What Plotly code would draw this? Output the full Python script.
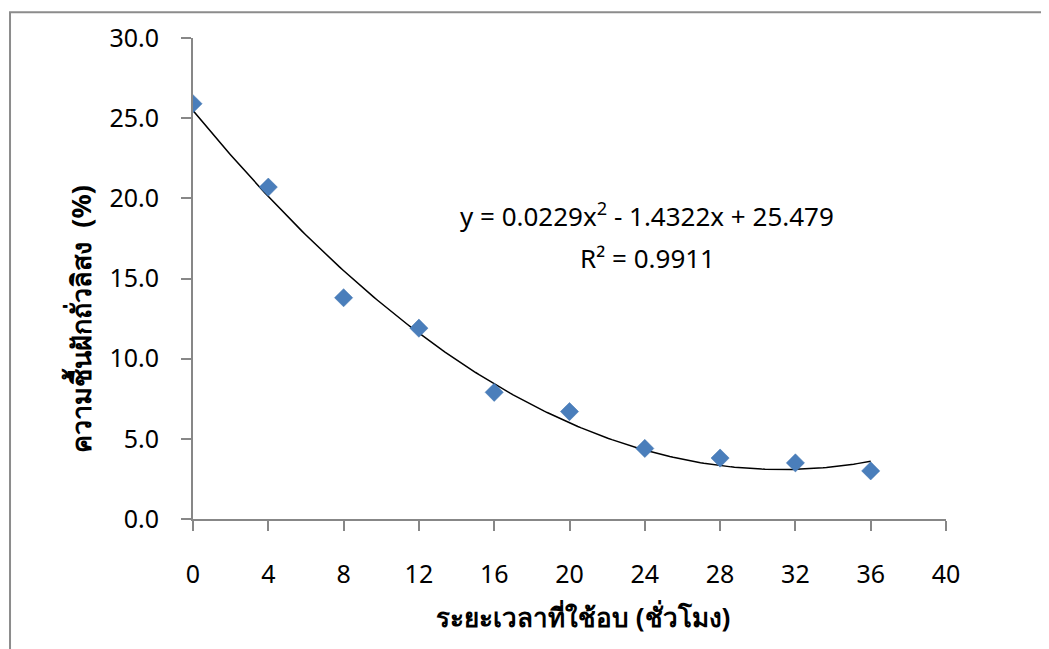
import numpy as np
import plotly.graph_objects as go

# Data
hours = [0, 4, 8, 12, 16, 20, 24, 28, 32, 36]
moisture = [25.9, 20.7, 13.8, 11.9, 7.9, 6.7, 4.4, 3.8, 3.5, 3.0]

# Trendline coefficients shown on chart (a*x^2 + b*x + c)
trend_coef = [0.0229, -1.4322, 25.479]
r_squared = 0.9911

x_ticks = [0, 4, 8, 12, 16, 20, 24, 28, 32, 36, 40]
y_ticks = [0, 5, 10, 15, 20, 25, 30]

x_title = "ระยะเวลาที่ใช้อบ (ชั่วโมง)"
y_title = "ความชื้นฝักถั่วลิสง  (%)"

FONT = "Noto Sans, Tahoma, sans-serif"
AXIS_GRAY = "#878787"

trend_x = np.linspace(min(hours), max(hours), 200)
trend_y = np.polyval(trend_coef, trend_x)

fig = go.Figure()
fig.add_trace(go.Scatter(
    x=trend_x, y=trend_y, mode="lines",
    line=dict(color="black", width=1.5),
    hoverinfo="skip", showlegend=False,
))
fig.add_trace(go.Scatter(
    x=hours, y=moisture, mode="markers",
    marker=dict(symbol="diamond", size=14, color="#4A7EBB",
                line=dict(color="#3F72AF", width=0.5)),
    showlegend=False,
))

eq_text = (f"y = {trend_coef[0]}x<sup>2</sup> - {abs(trend_coef[1])}x + {trend_coef[2]}")
fig.add_annotation(x=0.603, y=0.633, xref="paper", yref="paper",
                   xanchor="center", yanchor="middle",
                   text=eq_text, showarrow=False,
                   font=dict(family=FONT, size=26, color="#000"))
fig.add_annotation(x=0.603, y=0.542, xref="paper", yref="paper",
                   xanchor="center", yanchor="middle",
                   text=f"R² = {r_squared}", showarrow=False,
                   font=dict(family=FONT, size=26, color="#000"))

# Axis titles (placed as in the reference, slightly off-centre)
fig.add_annotation(x=0.518, y=-0.204, xref="paper", yref="paper",
                   xanchor="center", yanchor="middle",
                   text=f"<b>{x_title}</b>", showarrow=False,
                   font=dict(family=FONT, size=26, color="#000"))
fig.add_annotation(x=-0.150, y=0.4165, xref="paper", yref="paper",
                   xanchor="center", yanchor="middle",
                   text=f"<b>{y_title}</b>", showarrow=False, textangle=-90,
                   font=dict(family=FONT, size=27, color="#000"))

# Outer chart frame (cropped at right/bottom)
fig.add_shape(type="path", xref="paper", yref="paper",
              path="M -0.243 -0.4 L -0.243 1.0536 L 1.2 1.0536",
              line=dict(color="#8C8C8C", width=2))

fig.update_xaxes(
    range=[0, 40], tickvals=x_ticks, ticktext=[str(v) for v in x_ticks],
    showline=True, linecolor=AXIS_GRAY, linewidth=2,
    ticks="outside", ticklen=10, tickwidth=2, tickcolor=AXIS_GRAY,
    showgrid=False, zeroline=False, ticklabelstandoff=22,
    tickfont=dict(family=FONT, size=25, color="#000"),
)
fig.update_yaxes(
    range=[0, 30], tickvals=y_ticks, tickformat=".1f",
    showline=True, linecolor=AXIS_GRAY, linewidth=2,
    ticks="outside", ticklen=10, tickwidth=2, tickcolor=AXIS_GRAY,
    showgrid=False, zeroline=False, ticklabelstandoff=17,
    tickfont=dict(family=FONT, size=25, color="#000"),
)

# Page body has an 8px margin, so the figure is offset by 8px
fig.update_layout(
    width=1041, height=641,
    margin=dict(l=185, r=103, t=26, b=130),
    paper_bgcolor="white", plot_bgcolor="white",
)

fig.write_html("out.html")
